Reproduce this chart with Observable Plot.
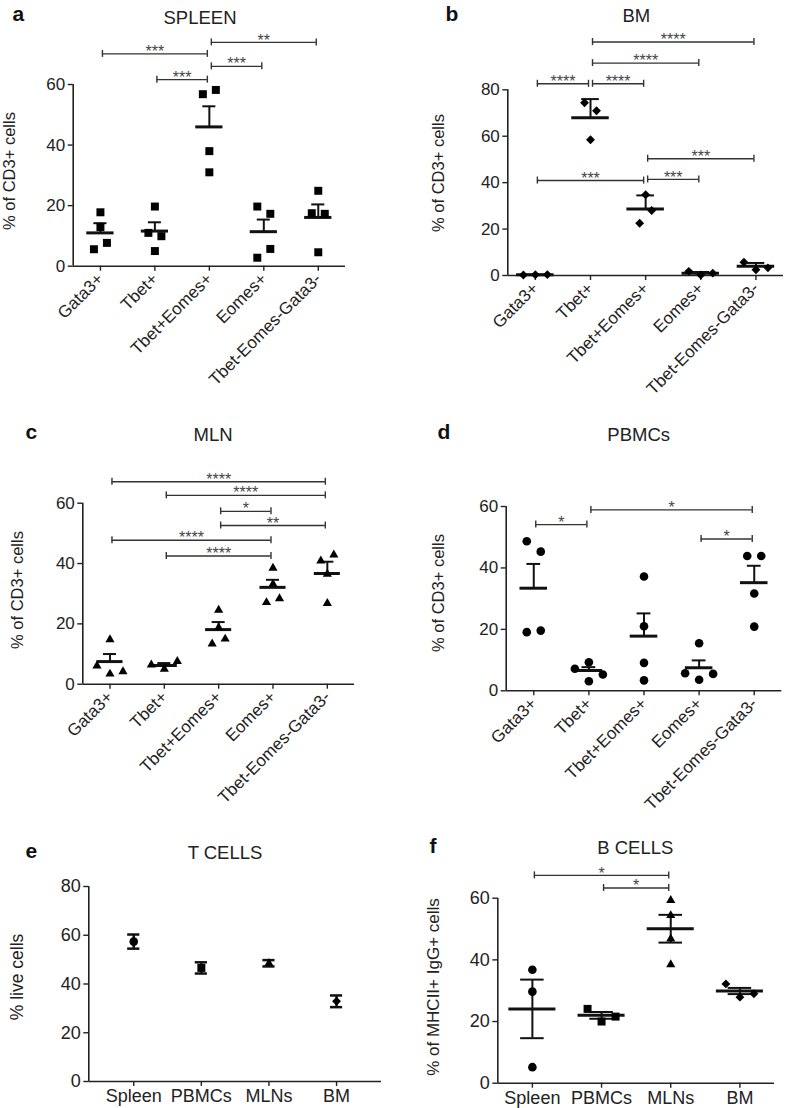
<!DOCTYPE html>
<html><head><meta charset="utf-8">
<script src="https://cdn.jsdelivr.net/npm/d3@7"></script>
<script src="https://cdn.jsdelivr.net/npm/@observablehq/plot@0.6"></script>
<style>
body{margin:0;background:#fff;}
#fig{position:relative;width:787px;height:1108px;font-family:"Liberation Sans",Arial,sans-serif;color:#222;overflow:hidden;}
.panel{position:absolute;}
.lbl{position:absolute;white-space:nowrap;line-height:1;}
.letter{font-weight:bold;font-size:21px;color:#111;transform:translate(-50%,-50%);}
.title{font-size:18.5px;transform:translate(-50%,-50%);}
.ylab{transform:translate(-50%,-50%) rotate(-90deg);}
</style></head><body><div id="fig"></div>
<script>
// ---------- data ----------
const cd3Cats = ["Gata3+", "Tbet+", "Tbet+Eomes+", "Eomes+", "Tbet-Eomes-Gata3-"];
const tissueCats = ["Spleen", "PBMCs", "MLNs", "BM"];

// a: SPLEEN (% of CD3+ cells)
const spleenValues = [[17.8, 12.9, 7.7, 5.6], [19.7, 9.9, 11.0, 5.0], [58.2, 56.8, 38.0, 31.0], [17.3, 19.7, 5.7, 2.8], [24.9, 17.3, 17.5, 4.6]];
const spleenMean = [11.0, 11.6, 46.0, 11.4, 16.1];
const spleenErr = [3.2, 2.9, 6.8, 4.0, 4.3];
const spleenBrackets = [
  {from: 0, to: 2, y: 70.1, label: "***"},
  {from: 2, to: 4, y: 73.9, label: "**"},
  {from: 2, to: 3, y: 66.0, label: "***"},
  {from: 1, to: 2, y: 61.6, label: "***"}
];

// b: BM
const bmValues = [[0.3, 0.2, 0.4], [71.0, 74.4, 58.5], [34.8, 28.0, 22.5], [0.2, 1.8, 1.0], [2.5, 5.7, 3.3]];
const bmMean = [0.3, 68.0, 28.6, 1.0, 4.0];
const bmErr = [0.1, 8.0, 5.9, 0.5, 1.4];
const bmBrackets = [
  {from: 0, to: 1, y: 82.6, label: "****"},
  {from: 1, to: 2, y: 82.6, label: "****"},
  {from: 1, to: 3, y: 91.5, label: "****"},
  {from: 1, to: 4, y: 100.6, label: "****"},
  {from: 0, to: 2, y: 40.9, label: "***"},
  {from: 2, to: 3, y: 41.4, label: "***"},
  {from: 2, to: 4, y: 50.3, label: "***"}
];

// c: MLN
const mlnValues = [[14.8, 3.4, 6.1, 4.2], [5.0, 6.4, 7.6], [24.6, 18.8, 15.0, 13.4], [38.5, 33.2, 28.4, 27.1], [42.9, 40.9, 36.5, 26.8]];
const mlnMean = [7.5, 6.2, 18.1, 32.1, 36.7];
const mlnErr = [2.5, 0.8, 2.5, 2.5, 3.9];
const mlnBrackets = [
  {from: 0, to: 4, y: 67.1, label: "****"},
  {from: 1, to: 4, y: 62.6, label: "****"},
  {from: 2, to: 3, y: 57.3, label: "*"},
  {from: 2, to: 4, y: 52.6, label: "**"},
  {from: 0, to: 3, y: 47.7, label: "****"},
  {from: 1, to: 3, y: 42.5, label: "****"}
];

// d: PBMCs
const pbmcValues = [[45.3, 48.7, 19.6, 19.1], [9.3, 3.1, 7.2, 5.3], [37.2, 21.0, 9.1, 3.4], [3.6, 5.7, 5.5, 15.5], [43.9, 43.9, 31.7, 20.9]];
const pbmcMean = [33.4, 6.6, 17.8, 7.5, 35.2];
const pbmcErr = [7.9, 1.1, 7.4, 2.4, 5.5];
const pbmcBrackets = [
  {from: 0, to: 1, y: 54.1, label: "*"},
  {from: 1, to: 4, y: 58.9, label: "*"},
  {from: 3, to: 4, y: 49.4, label: "*"}
];

// e: T CELLS (% live cells)
const tcellMean = [57.4, 46.6, 48.5, 32.9];
const tcellErr = [2.9, 2.3, 1.3, 2.4];

// f: B CELLS (% of MHCII+ IgG+ cells)
const bcellValues = [[36.8, 29.7, 5.2], [20.0, 24.1, 21.6], [59.3, 54.4, 46.8, 38.5], [27.9, 32.2, 29.0]];
const bcellMean = [24.1, 22.0, 50.1, 29.9];
const bcellErr = [9.5, 1.1, 4.5, 1.0];
const bcellBrackets = [
  {from: 0, to: 2, y: 67.4, label: "*"},
  {from: 1, to: 2, y: 63.3, label: "*"}
];

// ---------- drawing ----------
const fig = document.getElementById("fig");
const ink = "#222";
const radii = {square: 4.5, diamond2: 4, triangle: 3.4, circle: 4.3};

function addText(cls, txt, x, y, extra) {
  const d = document.createElement("div");
  d.className = "lbl " + cls;
  d.textContent = txt;
  d.style.left = x + "px";
  d.style.top = y + "px";
  if (extra) Object.assign(d.style, extra);
  fig.appendChild(d);
}

function makePanel(cfg) {
  const {left, top, width, height, ml, mr, mt, mb, xdom, ymax, yticks, cats, values, means, errs,
    brackets, symbols, D, s, meanHalf, capHalf, lowerErr, rotate, tickFont, labelFont, errWidth} = cfg;
  const plotW = width - ml - mr, plotH = height - mt - mb;
  const stepPx = plotW / (xdom[1] - xdom[0]);
  const ppu = plotH / ymax;
  const pts = [];
  if (values) {
    values.forEach((vals, i) => {
      const placed = [];
      vals.forEach(v => {
        let col = 0;
        for (const c of [0, -1, 1, -2, 2, -3, 3]) {
          if (!placed.some(p => p.col === c && Math.abs(p.v - v) * ppu < D)) { col = c; break; }
        }
        placed.push({v, col});
      });
      const idx = placed.map((p, j) => j).sort((a, b) => placed[a].v - placed[b].v);
      const comps = [[idx[0]]];
      for (let j = 1; j < idx.length; j++) {
        if ((placed[idx[j]].v - placed[idx[j - 1]].v) * ppu < D) comps[comps.length - 1].push(idx[j]);
        else comps.push([idx[j]]);
      }
      comps.forEach(c => {
        const m = d3.mean(c, j => placed[j].col);
        c.forEach(j => placed[j].off = placed[j].col - m);
      });
      placed.forEach(p => pts.push({cat: i, v: p.v, x: i + p.off * s / stepPx}));
    });
  } else {
    means.forEach((m, i) => pts.push({cat: i, v: m, x: i}));
  }
  const groups = means.map((m, i) => ({i, m, e: errs[i]}));
  const h = 3.5 / ppu;
  const inset = 2 / stepPx;
  const ends = brackets.flatMap(b => [{x: b.from + inset, y: b.y}, {x: b.to - inset, y: b.y}]);
  const marks = [
    Plot.ruleY([0], {stroke: ink, strokeWidth: 1.6}),
    Plot.ruleX([xdom[0]], {y1: 0, y2: ymax, stroke: ink, strokeWidth: 1.6}),
    Plot.axisY({ticks: yticks, tickSize: 5, tickPadding: 3, fontSize: tickFont, label: null, strokeWidth: 1.4}),
    Plot.axisX({ticks: d3.range(cats.length), tickFormat: i => cats[i], tickRotate: rotate, tickSize: 5,
      tickPadding: rotate ? 5 : 3, fontSize: labelFont, label: null, strokeWidth: 1.4}),
    Plot.ruleY(brackets, {y: "y", x1: d => d.from + inset, x2: d => d.to - inset, stroke: "#333", strokeWidth: 1.4}),
    Plot.ruleX(ends, {x: "x", y1: d => d.y - h, y2: d => d.y + h, stroke: "#333", strokeWidth: 1.4}),
    Plot.text(brackets, {x: d => (d.from + d.to) / 2, y: "y", text: "label", fontSize: 16, fill: "#444", dy: -2})
  ];
  if (meanHalf) marks.push(Plot.ruleY(groups, {y: "m", x1: d => d.i - meanHalf, x2: d => d.i + meanHalf, stroke: "#111", strokeWidth: 3}));
  marks.push(Plot.ruleX(groups, {x: "i", y1: d => lowerErr ? d.m - d.e : d.m, y2: d => d.m + d.e, stroke: "#111", strokeWidth: errWidth}));
  marks.push(Plot.ruleY(groups, {y: d => d.m + d.e, x1: d => d.i - capHalf, x2: d => d.i + capHalf, stroke: "#111", strokeWidth: errWidth}));
  if (lowerErr) marks.push(Plot.ruleY(groups, {y: d => d.m - d.e, x1: d => d.i - capHalf, x2: d => d.i + capHalf, stroke: "#111", strokeWidth: errWidth}));
  d3.groups(pts, d => symbols[d.cat]).forEach(([sym, arr]) => {
    marks.push(Plot.dot(arr, {x: "x", y: "v", symbol: sym, r: radii[sym], fill: "#000", stroke: "none"}));
  });
  const svg = Plot.plot({
    width, height, marginLeft: ml, marginRight: mr, marginTop: mt, marginBottom: mb,
    x: {domain: xdom}, y: {domain: [0, ymax]},
    style: {fontFamily: "Liberation Sans, Arial, sans-serif", color: ink, background: "transparent", overflow: "visible"},
    marks
  });
  svg.classList.add("panel");
  svg.style.left = left + "px";
  svg.style.top = top + "px";
  fig.appendChild(svg);
}

const cd3Common = {xdom: [-0.5, 4.5], cats: cd3Cats, rotate: -45, tickFont: 17, labelFont: 17, errWidth: 2, lowerErr: false};

makePanel({...cd3Common, left: 0, top: 0, width: 393, height: 400, ml: 72.7, mr: 48, mt: 84, mb: 134.3,
  ymax: 60, yticks: [0, 20, 40, 60], values: spleenValues, means: spleenMean, errs: spleenErr, brackets: spleenBrackets,
  symbols: cd3Cats.map(() => "square"), D: 11, s: 13, meanHalf: 0.25, capHalf: 0.12});
makePanel({...cd3Common, left: 393, top: 0, width: 394, height: 400, ml: 114.3, mr: 4, mt: 89.3, mb: 125,
  ymax: 80, yticks: [0, 20, 40, 60, 80], values: bmValues, means: bmMean, errs: bmErr, brackets: bmBrackets,
  symbols: cd3Cats.map(() => "diamond2"), D: 13, s: 12, meanHalf: 0.34, capHalf: 0.16});
makePanel({...cd3Common, left: 0, top: 425, width: 393, height: 390, ml: 82.3, mr: 39, mt: 77.7, mb: 131.3,
  ymax: 60, yticks: [0, 20, 40, 60], values: mlnValues, means: mlnMean, errs: mlnErr, brackets: mlnBrackets,
  symbols: cd3Cats.map(() => "triangle"), D: 9, s: 13, meanHalf: 0.24, capHalf: 0.12});
makePanel({...cd3Common, left: 393, top: 425, width: 394, height: 390, ml: 112.7, mr: 5.7, mt: 81, mb: 124.7,
  ymax: 60, yticks: [0, 20, 40, 60], values: pbmcValues, means: pbmcMean, errs: pbmcErr, brackets: pbmcBrackets,
  symbols: cd3Cats.map(() => "circle"), D: 13, s: 14, meanHalf: 0.25, capHalf: 0.125});
makePanel({left: 0, top: 815, width: 393, height: 293, ml: 88.3, mr: 12, mt: 71, mb: 27,
  xdom: [-0.665, 3.665], cats: tissueCats, rotate: 0, tickFont: 18, labelFont: 18, errWidth: 2.5, lowerErr: true,
  ymax: 80, yticks: [0, 20, 40, 60, 80], values: null, means: tcellMean, errs: tcellErr, brackets: [],
  symbols: ["circle", "square", "triangle", "diamond2"], D: 13, s: 14, meanHalf: 0, capHalf: 0.09});
makePanel({left: 393, top: 815, width: 394, height: 293, ml: 104.3, mr: 13, mt: 82.7, mb: 25.3,
  xdom: [-0.5, 3.5], cats: tissueCats, rotate: 0, tickFont: 18, labelFont: 18, errWidth: 2, lowerErr: true,
  ymax: 60, yticks: [0, 20, 40, 60], values: bcellValues, means: bcellMean, errs: bcellErr, brackets: bcellBrackets,
  symbols: ["circle", "square", "triangle", "diamond2"], D: 14, s: 14, meanHalf: 0.34, capHalf: 0.17});

// ---------- text ----------
addText("letter", "a", 18.3, 13);
addText("letter", "b", 452, 13);
addText("letter", "c", 31.3, 430.5);
addText("letter", "d", 443.8, 430.5);
addText("letter", "e", 31.3, 849.5);
addText("letter", "f", 433, 844.5);
addText("title", "SPLEEN", 200, 18);
addText("title", "BM", 636.3, 16);
addText("title", "MLN", 213, 435);
addText("title", "PBMCs", 638.7, 435);
addText("title", "T CELLS", 225, 853);
addText("title", "B CELLS", 635.3, 848.3);
addText("ylab", "% of CD3+ cells", 8.5, 171, {fontSize: "16.5px"});
addText("ylab", "% of CD3+ cells", 438, 172.5, {fontSize: "16.5px"});
addText("ylab", "% of CD3+ cells", 16.7, 590, {fontSize: "16.5px"});
addText("ylab", "% of CD3+ cells", 438, 593, {fontSize: "16.5px"});
addText("ylab", "% live cells", 18, 977, {fontSize: "17.5px"});
addText("ylab", "% of MHCII+ IgG+ cells", 433, 986.7, {fontSize: "17px"});
</script></body></html>
